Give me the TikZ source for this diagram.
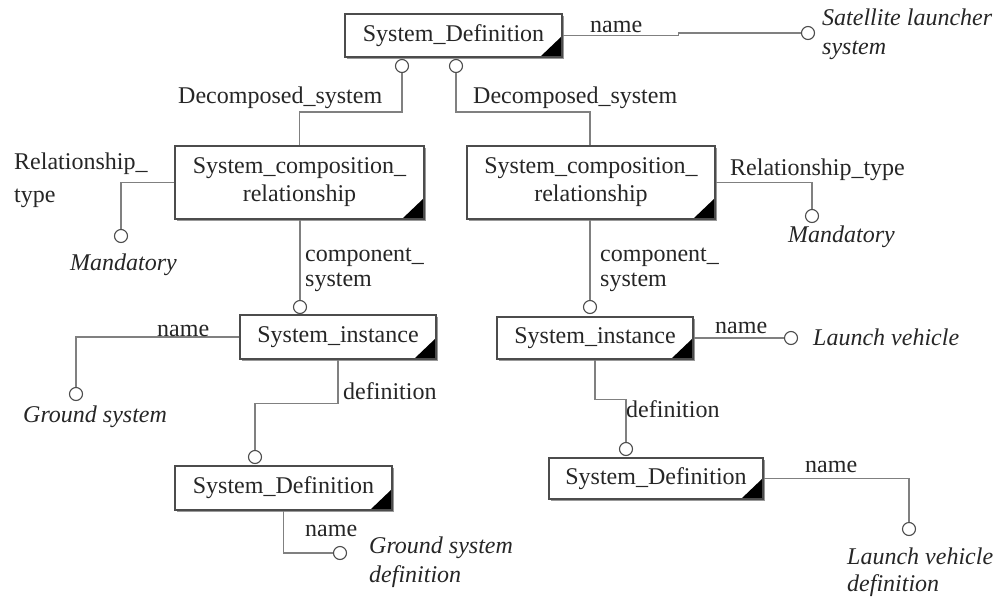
\documentclass[tikz,border=0pt]{standalone}
\usepackage{fontspec}
\setmainfont{Liberation Serif}
\usetikzlibrary{shadows,calc}

\begin{document}
\begin{tikzpicture}[x=1pt,y=-1pt,
  entity/.style={draw=black!70, line width=1.1pt, fill=white, inner sep=0pt,
    align=center, text=black!85, font=\fontsize{24}{28}\selectfont,
    drop shadow={shadow xshift=1.5pt, shadow yshift=-1.8pt, fill=black!40, opacity=1},
    path picture={\fill[black] (path picture bounding box.south east)
      -- ++(-22pt,0pt) -- ++(22pt,21pt) -- cycle;}},
  attr/.style={circle, draw=black!70, line width=1.1pt, fill=white,
    minimum size=13pt, inner sep=0pt},
  link/.style={draw=black!50, line width=1.6pt},
  % multi-line labels are placed by the baseline of their last line
  role/.style={inner sep=0pt, anchor=base west, align=left, text=black!85,
    font=\fontsize{24}{28}\selectfont},
  value/.style={inner sep=0pt, anchor=base west, align=left, text=black!85,
    font=\itshape\fontsize{24}{29}\selectfont}]

\useasboundingbox[fill=white] (0,0) rectangle (1002,600);

% entities
\node[entity, minimum width=217pt, minimum height=43pt] (sd0)  at (453.5,35.5) {System\_Definition};
\node[entity, minimum width=249pt, minimum height=73pt] (scrL) at (299.5,182.5) {System\_composition\_\\relationship};
\node[entity, minimum width=248pt, minimum height=73pt] (scrR) at (591,182.5) {System\_composition\_\\relationship};
\node[entity, minimum width=196pt, minimum height=44pt] (siL)  at (338,337) {System\_instance};
\node[entity, minimum width=196pt, minimum height=42pt] (siR)  at (595,338) {System\_instance};
\node[entity, minimum width=217pt, minimum height=44pt] (sdL)  at (283.5,488) {System\_Definition};
\node[entity, minimum width=214pt, minimum height=41pt] (sdR)  at (656,478.5) {System\_Definition};

% attribute ends
\node[attr] (c0a)    at (402,66) {};
\node[attr] (c0b)    at (456,66) {};
\node[attr] (cSat)   at (808,33) {};
\node[attr] (cMandL) at (121,236) {};
\node[attr] (cMandR) at (812,216) {};
\node[attr] (cSiL)   at (300,307) {};
\node[attr] (cSiR)   at (590,307) {};
\node[attr] (cGround) at (76,394) {};
\node[attr] (cSdL)   at (255,457) {};
\node[attr] (cSdR)   at (626,449) {};
\node[attr] (cGdef)  at (340,553) {};
\node[attr] (cLV)    at (791,338) {};
\node[attr] (cLVD)   at (909,529) {};

% connectors
\draw[link] (c0a.south) -- ++(0,39) -| (scrL.north);
\draw[link] (c0b.south) -- ++(0,39) -| (cSiR |- scrR.north);
\draw[link] (sd0.east) -- ++(116,0) |- (cSat.west);
\draw[link] (scrL.west) -| (cMandL.north);
\draw[link] (scrR.east) -| (cMandR.north);
\draw[link] (scrL.south -| cSiL) -- (cSiL.north);
\draw[link] (scrR.south -| cSiR) -- (cSiR.north);
\draw[link] (siL.west) -| (cGround.north);
\draw[link] (siL.south) -- ++(0,44) -| (cSdL.north);
\draw[link] (sdL.south) |- (cGdef.west);
\draw[link] (siR.east) -- (cLV.west);
\draw[link] (siR.south) -- ++(0,40) -| (cSdR.north);
\draw[link] (sdR.east) -| (cLVD.north);

% role names
\node[role] (lName0)   at (590,32)  {name};
\node[role] (lDecL)    at (178,103) {Decomposed\_system};
\node[role] (lDecR)    at (473,103) {Decomposed\_system};
\node[role, font=\fontsize{24}{33}\selectfont] (lRelL) at (14,202) {Relationship\_\\type};
\node[role] (lRelR)    at (730,175) {Relationship\_type};
\node[role, font=\fontsize{24}{25}\selectfont] (lCompL) at (305,286) {component\_\\system};
\node[role, font=\fontsize{24}{25}\selectfont] (lCompR) at (600,286) {component\_\\system};
\node[role] (lNameSiL) at (157,336) {name};
\node[role] (lDefL)    at (343,399) {definition};
\node[role] (lNameSdL) at (305,536) {name};
\node[role] (lNameSiR) at (715,333) {name};
\node[role] (lDefR)    at (626,417) {definition};
\node[role] (lNameSdR) at (805,472) {name};

% values
\node[value] (vSat)   at (822,54)  {Satellite launcher\\system};
\node[value] (vMandL) at (70,270)  {Mandatory};
\node[value] (vMandR) at (788,242) {Mandatory};
\node[value] (vGround) at (23,422) {Ground system};
\node[value] (vGdef)  at (369,582) {Ground system\\definition};
\node[value] (vLV)    at (813,345) {Launch vehicle};
\node[value, font=\itshape\fontsize{24}{27}\selectfont] (vLVD) at (847,591) {Launch vehicle\\definition};
\end{tikzpicture}
\end{document}
